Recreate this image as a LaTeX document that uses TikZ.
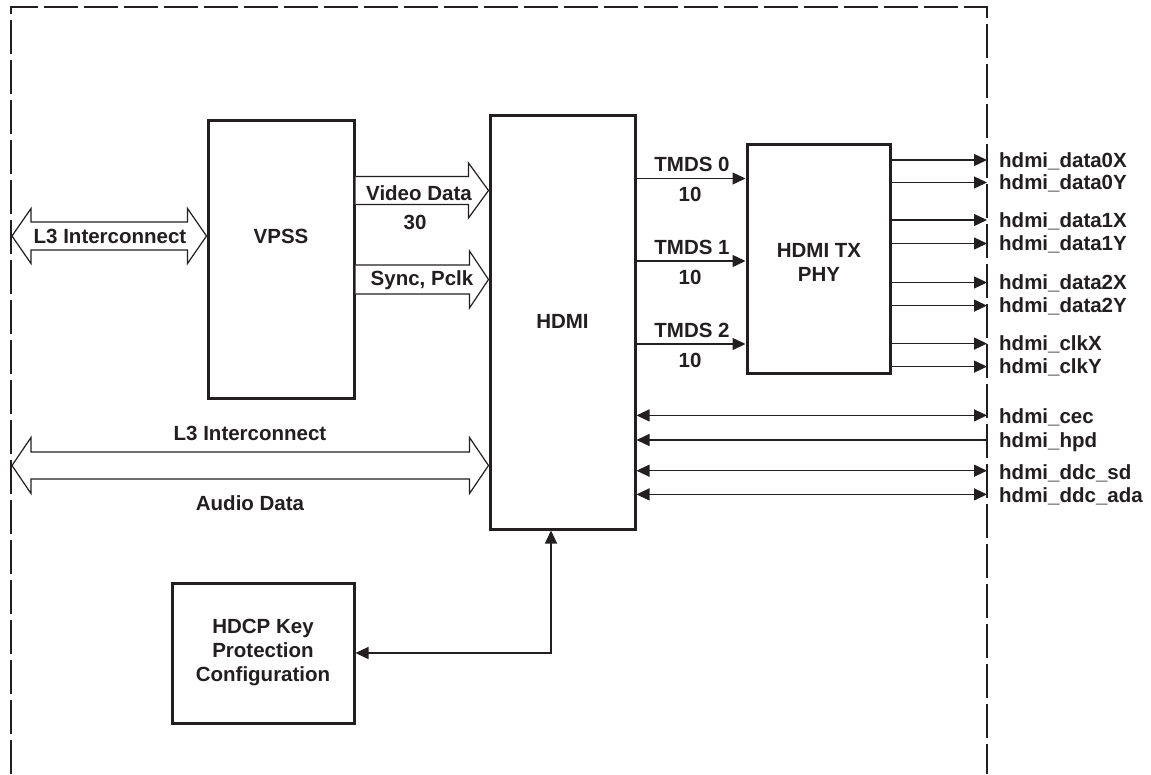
\documentclass[tikz,border=0pt]{standalone}
\usepackage{fontspec}
\setmainfont{Liberation Sans}
\usetikzlibrary{arrows.meta,calc}
\definecolor{ink}{HTML}{231F20}
\newcommand\hollowone[5]{%
  \draw[hollow] ($(#1)+(0,-#3)$) -- ($(#2)+(-#5,-#3)$) -- ($(#2)+(-#5,-#4)$) -- (#2)
    -- ($(#2)+(-#5,#4)$) -- ($(#2)+(-#5,#3)$) -- ($(#1)+(0,#3)$);}
\newcommand\hollowtwo[5]{%
  \draw[hollow] ($(#1)+(#5,-#3)$) -- ($(#2)+(-#5,-#3)$) -- ($(#2)+(-#5,-#4)$) -- (#2)
    -- ($(#2)+(-#5,#4)$) -- ($(#2)+(-#5,#3)$) -- ($(#1)+(#5,#3)$) -- ($(#1)+(#5,#4)$)
    -- (#1) -- ($(#1)+(#5,-#4)$) -- cycle;}
\begin{document}
\begin{tikzpicture}[x=1pt,y=-1pt,
  box/.style={draw=ink, line width=3pt, fill=white, inner sep=0pt},
  txt/.style={text=ink, font=\fontsize{20.5}{24}\selectfont\bfseries, inner sep=0pt, align=center},
  btxt/.style={txt, anchor=base},
  lbl/.style={txt, anchor=base west},
  sig/.style={draw=ink, line width=1.3pt},
  tip/.style={-{Triangle[length=13pt,width=12pt]}},
  tips/.style={{Triangle[length=13pt,width=12pt]}-{Triangle[length=13pt,width=12pt]}},
  rtip/.style={{Triangle[length=13pt,width=12pt]}-},
  hollow/.style={draw=ink, line width=1.2pt, fill=white, line join=miter},
  frame/.style={draw=ink, line width=1.3pt, dash pattern=on 34pt off 6pt}
]
\useasboundingbox (0,0) rectangle (1151,774);
\fill[white] (0,0) rectangle (1151,774);

% dashed frame
\draw[frame] (11,774) -- (11,7) -- (987,7) -- (987,774);

% blocks
\node[box, minimum width=146pt, minimum height=278pt] (vpss) at (281,259) {};
\node[box, minimum width=145pt, minimum height=414pt] (hdmi) at (562.5,322) {};
\node[box, minimum width=143pt, minimum height=229pt] (phy) at (818.5,258.5) {};
\node[box, minimum width=182pt, minimum height=140pt, txt] (hdcp) at (263,653) {HDCP Key\\Protection\\Configuration};

\node[btxt] (vpsst) at (281,243.3) {VPSS};
\node[btxt] (hdmit) at (562.5,328.5) {HDMI};
\node[txt] (phyt) at (819,262) {HDMI TX\\PHY};

% top-left L3 interconnect (double hollow)
\coordinate (l3a) at (12,236);
\coordinate (l3b) at (vpss.west |- l3a);
\hollowtwo{l3a}{l3b}{14}{27.5}{19}
\node[btxt] (l3t) at (110,243.3) {L3 Interconnect};

% video data
\coordinate (vda) at (vpss.east |- 0,190.5);
\coordinate (vdb) at (hdmi.west |- vda);
\hollowone{vda}{vdb}{14}{27.5}{20}
\node[btxt] (vdt) at (419,200) {Video Data};
\node[btxt] (vdn) at (415,229.5) {30};

% sync pclk
\coordinate (spa) at (vpss.east |- 0,279.5);
\coordinate (spb) at (hdmi.west |- spa);
\hollowone{spa}{spb}{14.5}{28.5}{19}
\node[btxt] (spt) at (422,285.5) {Sync, Pclk};

% bottom L3 / audio
\coordinate (aua) at (12,465.5);
\coordinate (aub) at (hdmi.west |- aua);
\hollowtwo{aua}{aub}{13.5}{28}{19}
\node[btxt] (aut1) at (250,440) {L3 Interconnect};
\node[btxt] (aut2) at (250,510) {Audio Data};

% TMDS
\foreach \yy/\k in {178.5/0, 261/1, 344/2}{
  \coordinate (tm\k) at (hdmi.east |- 0,\yy);
  \draw[sig,tip] (tm\k) -- (phy.west |- tm\k);
  \node[btxt] (tmt\k) at (692,\yy-7) {TMDS \k};
  \node[btxt] (tmn\k) at (690,\yy+23) {10};
}

% PHY outputs
\foreach \yy/\nm [count=\i] in {160/data0X, 182.5/data0Y, 220/data1X, 243.5/data1Y, 282.5/data2X, 305.6/data2Y, 343.6/clkX, 366.6/clkY}{
  \coordinate (o\i) at (987,\yy);
  \draw[sig,tip] (phy.east |- o\i) -- (o\i);
  \node[lbl] (ol\i) at (999,\yy+7) {hdmi\_\nm};
}

% lower HDMI signals
\coordinate (cec) at (987,415.4);
\coordinate (hpd) at (987,440);
\coordinate (dsd) at (987,470.7);
\coordinate (dad) at (987,494.4);
\draw[sig,tips] (hdmi.east |- cec) -- (cec);
\draw[sig,rtip] (hdmi.east |- hpd) -- (hpd);
\draw[sig,tips] (hdmi.east |- dsd) -- (dsd);
\draw[sig,tips] (hdmi.east |- dad) -- (dad);
\node[lbl] (lcec) at (999,423.5) {hdmi\_cec};
\node[lbl] (lhpd) at (999,447) {hdmi\_hpd};
\node[lbl] (ldsd) at (999,479) {hdmi\_ddc\_sd};
\node[lbl] (ldad) at (999,502) {hdmi\_ddc\_ada};

% HDCP link
\coordinate (hk) at (551,0);
\draw[sig,tips] (hdmi.south -| hk) |- (hdcp.east);
\end{tikzpicture}
\end{document}
